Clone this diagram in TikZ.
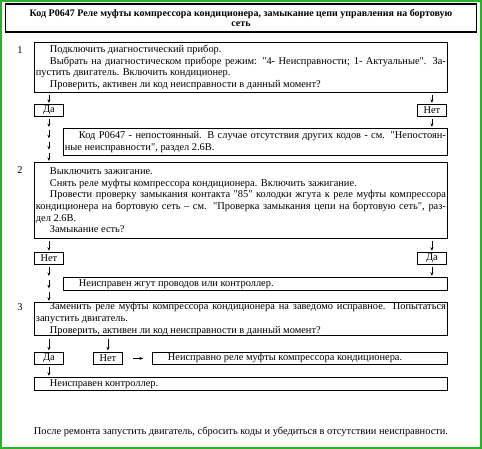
\documentclass[tikz,border=0pt]{standalone}
\usepackage{fontspec}
\setmainfont{Liberation Serif}
\usetikzlibrary{arrows.meta}
\usetikzlibrary{calc}
\definecolor{framegreen}{RGB}{40,180,40}
\tikzstyle{stepbox} = [draw, line width=0.8pt, anchor=north west, inner xsep=1.5pt,
inner ysep=0pt, align=justify, text width=#1]
\tikzstyle{answer} = [draw, line width=0.8pt, anchor=north west, minimum width=29pt,
minimum height=12pt, inner sep=0pt]
\tikzstyle{num} = [inner sep=0pt]
\tikzstyle{arr} = [-{Stealth[length=3.5pt, width=3pt]}, line width=0.6pt]
\tolerance=9999
\hbadness=10000
\hyphenpenalty=10000
\exhyphenpenalty=10000
\newcommand{\ind}{\hspace*{14pt}}
\newcommand{\qq}{\textquotedbl}
\newcommand{\dropchain}[3]{ %
  % Short arrows from #1 down to #2, #3 of them.
  \foreach \i [evaluate=\i as \s using (\i-0.8)/#3,
               evaluate=\i as \e using (\i-0.1)/#3] in {1,...,#3} { %
    \draw[arr] ($(#1)!\s!(#2)$) -- ($(#1)!\e!(#2)$) ;%
  } ;
}

\begin{document}
\begin{tikzpicture}[x=1pt, y=-1pt, font=\fontsize{10.4}{11.6}\selectfont]
    \useasboundingbox (0,0) rectangle (482,449);
    \draw[framegreen, line width=2pt] (1,1) rectangle (481,448);
    \node[draw, line width=1.4pt, minimum width=471pt, minimum height=28pt, align=center,
      font=\fontsize{10}{10.5}\selectfont\bfseries](title) at (241,18)
      {Код P0647 Реле муфты компрессора кондиционера, замыкание цепи управления на бортовую\\сеть};
    % step 1
    \node[num](n1) at (20,50) {1};
    \node[stepbox=410pt, minimum height=50pt](s1) at (34,42)
      {\ind Подключить диагностический прибор.\\
       \ind Выбрать на диагностическом приборе режим: \qq{}4- Неисправности; 1- Актуальные\qq{}. За-\linebreak
       пустить двигатель. Включить кондиционер.\\
       \ind Проверить, активен ли код неисправности в данный момент?};
    \node[answer](da1) at (34,104) {Да};
    \node[answer](net1) at (417,104) {Нет};
    \node[stepbox=381pt, minimum height=27pt](s1b) at (63,128)
      {\ind Код P0647 - непостоянный. В случае отсутствия других кодов - см. \qq{}Непостоян-\linebreak
       ные неисправности\qq{}, раздел 2.6В.};
    % step 2
    \node[num](n2) at (20,170) {2};
    \node[stepbox=410pt, minimum height=76pt](s2) at (34,162)
      {\ind Выключить зажигание.\\
       \ind Снять реле муфты компрессора кондиционера. Включить зажигание.\\
       \ind Провести проверку замыкания контакта \qq{}85\qq{} колодки жгута к реле муфты компрессора\linebreak
       кондиционера на бортовую сеть -- см. \qq{}Проверка замыкания цепи на бортовую сеть\qq{}, раз-\linebreak
       дел 2.6В.\\
       \ind Замыкание есть?};
    \node[answer](net2) at (34,252) {Нет};
    \node[answer](da2) at (417,252) {Да};
    \node[stepbox=381pt, minimum height=13pt](s2b) at (63,277)
      {\ind Неисправен жгут проводов или контроллер.};
    % step 3
    \node[num](n3) at (20,307) {3};
    \node[stepbox=410pt, minimum height=33pt](s3) at (34,302)
      {\ind Заменить реле муфты компрессора кондиционера на заведомо исправное. Попытаться\linebreak
       запустить двигатель.\\
       \ind Проверить, активен ли код неисправности в данный момент?};
    \node[answer](da3) at (34,352) {Да};
    \node[answer](net3) at (93,352) {Нет};
    \node[stepbox=292pt, minimum height=12pt](s3c) at (152,352)
      {\ind Неисправно реле муфты компрессора кондиционера.};
    \node[stepbox=410pt, minimum height=13pt](s3b) at (34,377)
      {\ind Неисправен контроллер.};
    \node(note) at (241,432)
      {После ремонта запустить двигатель, сбросить коды и убедиться в отсутствии неисправности.};
    % arrows
    \dropchain{s1.south -| da1}{da1.north}{1}
    \dropchain{s1.south -| net1}{net1.north}{1}
    \dropchain{net1.south}{net1.south |- s1b.north}{1}
    \dropchain{da1.south}{da1.south |- s2.north}{4}
    \dropchain{s2.south -| net2}{net2.north}{1}
    \dropchain{s2.south -| da2}{da2.north}{1}
    \dropchain{da2.south}{da2.south |- s2b.north}{1}
    \dropchain{net2.south}{net2.south |- s3.north}{3}
    \dropchain{s3.south -| da3}{da3.north}{1}
    \dropchain{s3.south -| net3}{net3.north}{1}
    \dropchain{da3.south}{da3.south |- s3b.north}{1}
    \draw[arr, shorten <=10pt, shorten >=9pt] (net3) -- (s3c);
\end{tikzpicture}
\end{document}
